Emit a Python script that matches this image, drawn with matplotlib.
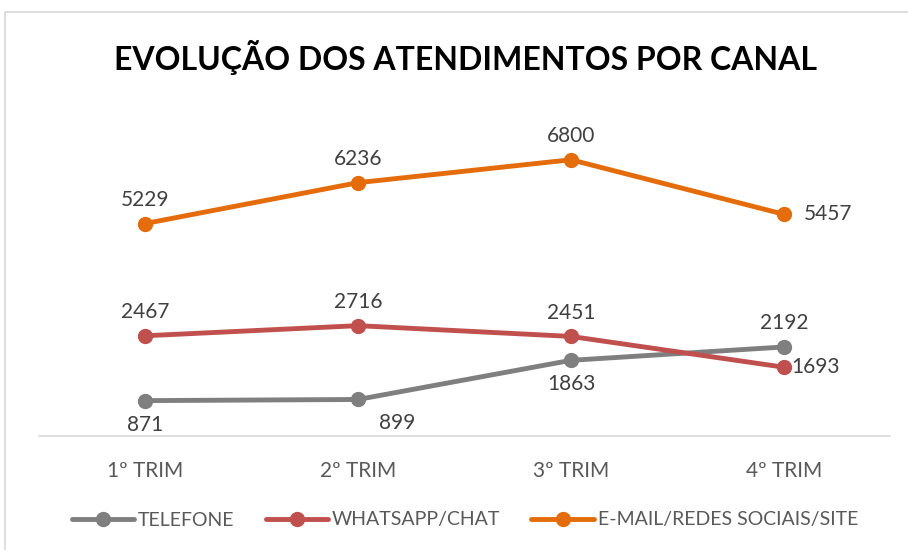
import matplotlib.pyplot as plt
from matplotlib.patches import Rectangle

categories = ['1º TRIM', '2º TRIM', '3º TRIM', '4º TRIM']
telefone = [871, 899, 1863, 2192]
whatsapp = [2467, 2716, 2451, 1693]
email = [5229, 6236, 6800, 5457]

series = [
    ('TELEFONE', telefone, '#7f7f7f', ['below', 'below_r', 'below', 'above']),
    ('WHATSAPP/CHAT', whatsapp, '#c0504d', ['above', 'above', 'above', 'right']),
    ('E-MAIL/REDES SOCIAIS/SITE', email, '#e46c0a', ['above', 'above', 'above', 'right2']),
]

plt.rcParams['font.family'] = ['Lato', 'DejaVu Sans']

fig = plt.figure(figsize=[9.08, 5.5], dpi=100)
fig.patches.append(Rectangle((5/908, -0.1), 1.2, (550-12)/550 + 0.1, transform=fig.transFigure,
                             fill=False, edgecolor='#d9d9d9', linewidth=1.2))
ax = fig.add_axes([38.5/908, 114/550, 852/908, 325/550])

x = list(range(len(categories)))
offsets = {'above': ((0, 10), 'center', 'bottom'),
           'below': ((0, -10), 'center', 'top'),
           'below_r': ((28, -10), 'center', 'top'),
           'right': ((5, 0), 'left', 'center'),
           'right2': ((14, 0), 'left', 'center')}
for name, vals, col, pos in series:
    ax.plot(x, vals, color=col, lw=3.5, marker='o', markersize=10, label=name,
            solid_capstyle='round')
    for xi, v, p in zip(x, vals, pos):
        off, ha, va = offsets[p]
        ax.annotate(str(v), (xi, v), xytext=off, textcoords='offset points',
                    ha=ha, va=va, fontsize=15, color='#404040')

ax.set_xlim(-0.5, 3.5)
ax.set_ylim(0, 8000)
ax.set_xticks(x)
ax.set_xticklabels(categories, fontsize=15, color='#595959')
ax.tick_params(axis='x', length=0, pad=18)
ax.set_yticks([])
for s in ['top', 'left', 'right']:
    ax.spines[s].set_visible(False)
ax.spines['bottom'].set_color('#d9d9d9')
ax.spines['bottom'].set_linewidth(1.2)

fig.text(465/908, 1 - 57/550, 'EVOLUÇÃO DOS ATENDIMENTOS POR CANAL', ha='center', va='center',
         fontsize=23, fontweight='bold', color='black')

leg = fig.legend(loc='center', bbox_to_anchor=(465/908, 1 - 520/550), ncol=3, frameon=False,
                 fontsize=14, handlelength=3.2, columnspacing=1.6, handletextpad=0.2)
for t in leg.get_texts():
    t.set_color('#595959')

fig.savefig('out.png', dpi=100)
